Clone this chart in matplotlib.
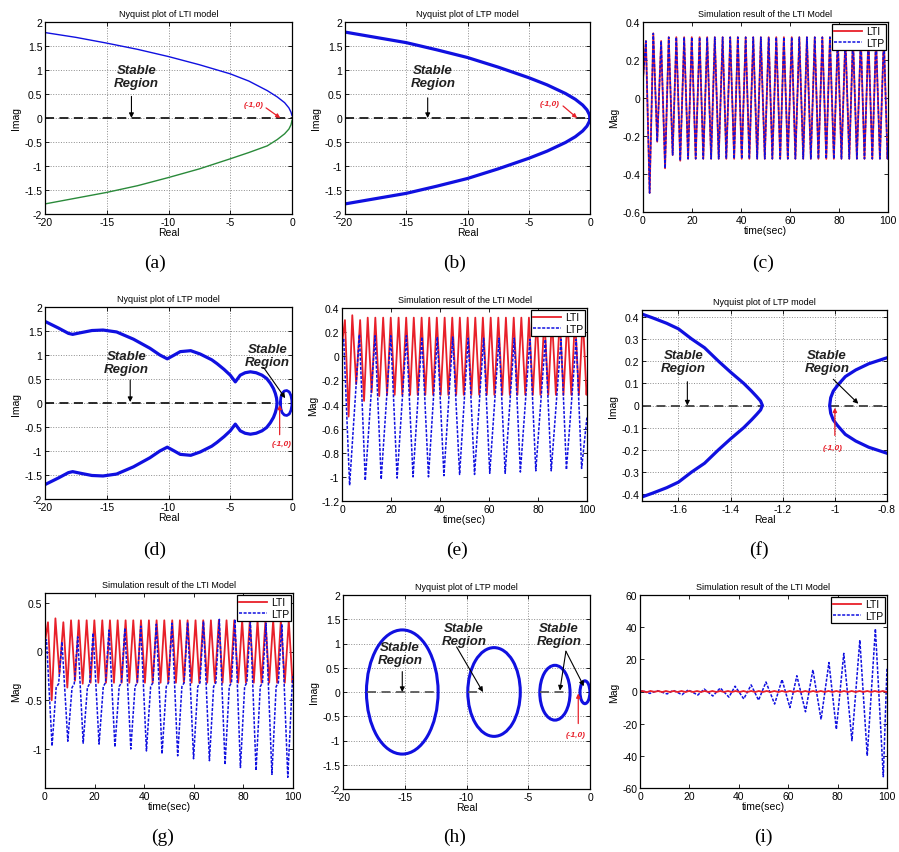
import numpy as np
import matplotlib
matplotlib.use("Agg")
import matplotlib.pyplot as plt
from matplotlib.patches import Ellipse
from matplotlib.ticker import FuncFormatter

plt.rcParams['font.family'] = ['Liberation Sans', 'DejaVu Sans']
plt.rcParams['axes.unicode_minus'] = False

BLUE = '#1010e0'
RED = '#e8202a'
GREEN = '#2a8a3a'

# ---------------- Nyquist data ----------------
# (a) LTI model: positive / negative frequency branches
a_real = [-20, -17.5, -15, -12.5, -10, -7.5, -5, -3.5, -2, -1.2, -0.6, -0.25, -0.08, 0]
a_imag_pos = [1.78, 1.68, 1.56, 1.43, 1.28, 1.11, 0.92, 0.77, 0.57, 0.44, 0.32, 0.21, 0.12, 0.05]
a_imag_neg = [-1.79, -1.67, -1.55, -1.41, -1.24, -1.06, -0.85, -0.72, -0.58, -0.45, -0.33, -0.23, -0.14, -0.05]

# (b) LTP model
b_real = [-20, -17.5, -15, -12.5, -10, -7.5, -5, -3.5, -2, -1.2, -0.6, -0.25, -0.05, 0.0]
b_imag = [1.79, 1.68, 1.57, 1.42, 1.26, 1.06, 0.84, 0.69, 0.51, 0.39, 0.27, 0.17, 0.07, 0.0]

# (d) LTP model, main branch (upper half) and small high-frequency loop
d_real = [-20, -18.9, -18.1, -17.76, -17.2, -16.2, -15.3, -14.2, -12.84, -11.5, -10.7,
          -10.1, -9.6, -9.05, -8.2, -7.43, -6.5, -6.07, -5.5, -5.0, -4.59, -4.19, -3.8,
          -3.37, -2.9, -2.43, -2.05, -1.75, -1.5, -1.35, -1.25, -1.21]
d_imag = [1.70, 1.56, 1.45, 1.43, 1.46, 1.51, 1.52, 1.48, 1.33, 1.14, 1.0,
          0.92, 0.99, 1.07, 1.09, 1.02, 0.9, 0.82, 0.7, 0.58, 0.44, 0.58, 0.63,
          0.65, 0.63, 0.58, 0.51, 0.41, 0.3, 0.2, 0.1, 0.0]
d_loop_real = [-0.95, -0.9, -0.8, -0.62, -0.42, -0.22, -0.08, -0.01, -0.01, -0.08, -0.22, -0.42, -0.62, -0.8, -0.9, -0.95]
d_loop_imag = [0.0, 0.12, 0.2, 0.25, 0.26, 0.23, 0.15, 0.05, -0.05, -0.15, -0.23, -0.26, -0.25, -0.2, -0.12, 0.0]

# (f) LTP model, zoom around the critical point
f_left_real = [-1.76, -1.7, -1.645, -1.6, -1.55, -1.5, -1.447, -1.4, -1.35, -1.32, -1.30, -1.285, -1.278]
f_left_imag = [0.42, 0.395, 0.37, 0.345, 0.30, 0.26, 0.2, 0.15, 0.1, 0.065, 0.04, 0.02, 0.0]
f_right_real = [-1.02, -1.016, -1.006, -0.99, -0.96, -0.92, -0.87, -0.8]
f_right_imag = [0.0, 0.035, 0.065, 0.09, 0.13, 0.16, 0.188, 0.215]

# (h) LTP model: closed loops
h_center_real = [-15.2, -7.77, -2.84, -0.41]
h_center_imag = [0.0, 0.0, -0.015, -0.005]
h_width = [5.8, 4.25, 2.45, 0.8]
h_height = [2.56, 1.83, 1.13, 0.47]
h_dash_start = [-18.06, -9.9, -4.05]
h_dash_end = [-12.3, -8.66, -1.86]

# ---------------- time responses (extrema of the oscillations) ----------------
lti_t = [0, 1.2, 2.7, 4.2, 5.8, 7.4, 9.0, 10.5, 12.1, 13.6, 15.2, 16.8, 18.4, 19.9, 21.5,
         23.1, 24.6, 26.2, 27.8, 29.3, 30.9, 32.5, 34.0, 35.6, 37.2, 38.7, 40.3, 41.9,
         43.4, 45.0, 46.6, 48.1, 49.7, 51.3, 52.8, 54.4, 56.0, 57.5, 59.1, 60.7, 62.2,
         63.8, 65.4, 66.9, 68.5, 70.1, 71.6, 73.2, 74.8, 76.3, 77.9, 79.5, 81.0, 82.6,
         84.2, 85.7, 87.3, 88.9, 90.4, 92.0, 93.6, 95.1, 96.7, 98.3, 99.8, 100]
lti_y = [0.10, 0.30, -0.50, 0.34, -0.23, 0.30, -0.37, 0.32, -0.30, 0.32, -0.33, 0.32, -0.32, 0.32, -0.32,
         0.32, -0.32, 0.32, -0.32, 0.32, -0.32, 0.32, -0.32, 0.32, -0.32, 0.32, -0.32, 0.32,
         -0.32, 0.32, -0.32, 0.32, -0.32, 0.32, -0.32, 0.32, -0.32, 0.32, -0.32, 0.32, -0.32,
         0.32, -0.32, 0.32, -0.32, 0.32, -0.32, 0.32, -0.32, 0.32, -0.32, 0.32, -0.32, 0.32,
         -0.32, 0.32, -0.32, 0.32, -0.32, 0.32, -0.32, 0.32, -0.32, 0.32, -0.32, -0.25]

ltp_e_t = [0, 0.7, 3.1, 7.1, 9.5, 13.5, 16.0, 19.9, 22.5, 26.3, 29.0, 32.6, 35.3, 38.9, 41.6, 45.2,
           48.0, 51.5, 54.1, 57.8, 60.3, 64.1, 66.6, 70.3, 72.8, 76.7, 79.1, 83.0, 85.4, 89.4,
           91.6, 95.6, 97.8, 100]
ltp_e_y = [0.10, 0.14, -1.07, 0.18, -1.03, 0.17, -1.02, 0.17, -1.01, 0.17, -1.00, 0.16, -1.00, 0.16,
           -0.99, 0.16, -0.98, 0.15, -0.98, 0.15, -0.97, 0.15, -0.97, 0.15, -0.96, 0.14, -0.95, 0.14,
           -0.95, 0.14, -0.94, 0.14, -0.93, -0.50]

ltp_g_t = [0, 0.6,
           2.85, 4.5, 5.5, 6.85, 9.2, 10.9, 11.8, 13.2, 15.4, 17.1, 18.0, 19.4,
           21.8, 23.5, 24.4, 25.8, 28.2, 29.9, 30.8, 32.2, 34.6, 36.3, 37.2, 38.6,
           40.9, 42.6, 43.5, 44.9, 47.2, 48.9, 49.8, 51.2, 53.5, 55.2, 56.1, 57.5,
           59.9, 61.6, 62.5, 63.9, 66.3, 68.0, 68.9, 70.3, 72.6, 74.3, 75.2, 76.6,
           78.8, 80.5, 81.4, 82.8, 85.1, 86.8, 87.7, 89.1, 91.5, 93.2, 94.1, 95.5,
           97.9, 99.6, 100]
ltp_g_y = [0.10, 0.12,
           -0.97, -0.37, -0.33, 0.10, -0.92, -0.37, -0.33, 0.15, -0.94, -0.37, -0.33, 0.19,
           -0.95, -0.36, -0.32, 0.22, -0.98, -0.36, -0.32, 0.24, -1.00, -0.36, -0.32, 0.26,
           -1.02, -0.36, -0.32, 0.28, -1.05, -0.36, -0.32, 0.29, -1.07, -0.36, -0.32, 0.30,
           -1.10, -0.36, -0.32, 0.31, -1.12, -0.36, -0.32, 0.33, -1.16, -0.36, -0.32, 0.33,
           -1.19, -0.36, -0.32, 0.31, -1.22, -0.36, -0.32, 0.29, -1.26, -0.36, -0.32, 0.28,
           -1.29, -0.38, -0.25]

ltp_i_t = [0, 1.0, 4.0, 7.0, 11.0, 13.5, 17.0, 19.5, 23.4, 26.0, 29.5, 32.5, 36.0, 38.5, 42.0, 45.0,
           48.0, 51.0, 54.5, 57.5, 60.7, 63.5, 67.0, 70.0, 73.3, 76.5, 79.5, 82.5, 85.8, 89.0,
           92.0, 95.3, 98.5, 100]
ltp_i_y = [-0.5, 0.5, -1.2, 0.5, -1.5, 0.7, -2.0, 1.0, -2.2, 1.5, -2.8, 2.2, -3.5, 3.3, -4.6, 4.1,
           -5.4, 5.9, -7.8, 7.4, -10.0, 9.8, -12.6, 13.5, -17.4, 18.0, -23.5, 23.7, -30.6, 32.0,
           -40.0, 39.0, -53.0, 15.0]

fig = plt.figure(figsize=(8.99, 8.53), dpi=100)


def _tick(v, pos):
    v = round(v, 6)
    if v == 0:
        v = 0.0
    return '%g' % v


fmt = FuncFormatter(_tick)


def make_axes(left, top, right, bottom):
    return fig.add_axes([left / 899, 1 - bottom / 853, (right - left) / 899, (bottom - top) / 853])


def style(ax, title, xlabel, ylabel, grid):
    ax.set_title(title, fontsize=6.5, pad=4)
    ax.set_xlabel(xlabel, fontsize=7.5, labelpad=0.5)
    ax.set_ylabel(ylabel, fontsize=7.5, labelpad=2)
    ax.tick_params(direction='in', length=3, width=0.6, labelsize=7.5, top=True, right=True, pad=2)
    ax.xaxis.set_major_formatter(fmt)
    ax.yaxis.set_major_formatter(fmt)
    for s in ax.spines.values():
        s.set_linewidth(0.9)
    if grid:
        ax.grid(True, ls=':', color='0.55', lw=0.7)
        ax.set_axisbelow(True)


ARROW_K = dict(arrowstyle='-|>', color='k', lw=0.8, mutation_scale=7, shrinkA=0, shrinkB=0)


def stable_text(ax, x, y, tail, tip):
    ax.text(x, y, 'Stable\nRegion', ha='center', va='center', fontsize=9.5,
            fontweight='bold', fontstyle='italic', linespacing=1.1, color='#202020')
    if tip is not None:
        ax.annotate('', xy=tip, xytext=tail, arrowprops=ARROW_K)


def point_label(ax, x, y, tail, tip):
    ax.text(x, y, '(-1,0)', ha='center', va='center', fontsize=6, color=RED,
            fontweight='bold', fontstyle='italic')
    ax.annotate('', xy=tip, xytext=tail,
                arrowprops=dict(arrowstyle='-|>', color=RED, lw=0.9, mutation_scale=6,
                                shrinkA=0, shrinkB=0))


def panel_label(x, y, s):
    fig.text(x / 899, 1 - y / 853, s, ha='center', va='center', fontsize=14,
             family=['Liberation Serif', 'DejaVu Serif'])


def legend(ax, handles=None, labels=None):
    kw = dict(loc='upper right', fontsize=7.5, frameon=True, fancybox=False, edgecolor='k',
              borderpad=0.25, handlelength=2.6, labelspacing=0.15, borderaxespad=0.15,
              handletextpad=0.4)
    lg = ax.legend(handles, labels, **kw) if handles is not None else ax.legend(**kw)
    lg.get_frame().set_linewidth(0.9)
    lg.get_frame().set_alpha(1)


dash_k = (0, (5, 3))
dash_b = (0, (2, 1))

# (a)
ax = make_axes(45, 23, 292, 215)
ax.plot([-20, 0], [0, 0], color='0.1', lw=1.3, ls=dash_k)
ax.plot(a_real, a_imag_pos, color=BLUE, lw=1.0)
ax.plot(a_real, a_imag_neg, color=GREEN, lw=1.0)
ax.set_xlim(-20, 0); ax.set_ylim(-2, 2)
ax.set_xticks([-20, -15, -10, -5, 0]); ax.set_yticks(np.arange(-2, 2.01, 0.5))
style(ax, 'Nyquist plot of LTI model', 'Real', 'Imag', True)
stable_text(ax, -12.6, 0.87, (-13.0, 0.45), (-13.0, 0.0))
point_label(ax, -3.1, 0.29, (-2.1, 0.21), (-0.95, 0.0))

# (b)
ax = make_axes(345, 23, 590, 215)
ax.plot([-20, 0], [0, 0], color='0.1', lw=1.3, ls=dash_k)
ax.plot(b_real, b_imag, color=BLUE, lw=2.3)
ax.plot(b_real, -np.array(b_imag), color=BLUE, lw=2.3)
ax.set_xlim(-20, 0); ax.set_ylim(-2, 2)
ax.set_xticks([-20, -15, -10, -5, 0]); ax.set_yticks(np.arange(-2, 2.01, 0.5))
style(ax, 'Nyquist plot of LTP model', 'Real', 'Imag', True)
stable_text(ax, -12.8, 0.87, (-13.25, 0.42), (-13.25, 0.0))
point_label(ax, -3.3, 0.3, (-2.2, 0.25), (-1.05, 0.0))

# (c)
ax = make_axes(643, 23, 888, 213)
ax.plot(lti_t, lti_y, color=RED, lw=1.3, label='LTI')
ax.plot(lti_t, lti_y, color=BLUE, lw=1.1, ls=dash_b, label='LTP')
ax.set_xlim(0, 100); ax.set_ylim(-0.6, 0.4)
ax.set_xticks(np.arange(0, 101, 20)); ax.set_yticks(np.arange(-0.6, 0.41, 0.2))
style(ax, 'Simulation result of the LTI Model', 'time(sec)', 'Mag', False)
legend(ax)

# (d)
ax = make_axes(45, 308, 292, 500)
ax.plot([-20, -1.2], [0, 0], color='0.1', lw=1.3, ls=dash_k)
ax.plot(d_real + d_real[::-1], d_imag + [-v for v in d_imag[::-1]], color=BLUE, lw=2.3)
ax.plot(d_loop_real, d_loop_imag, color=BLUE, lw=2.0)
ax.set_xlim(-20, 0); ax.set_ylim(-2, 2)
ax.set_xticks([-20, -15, -10, -5, 0]); ax.set_yticks(np.arange(-2, 2.01, 0.5))
style(ax, 'Nyquist plot of LTP model', 'Real', 'Imag', True)
stable_text(ax, -13.4, 0.85, (-13.1, 0.48), (-13.1, 0.02))
stable_text(ax, -2.0, 0.99, (-2.3, 0.74), (-0.55, 0.1))
point_label(ax, -0.85, -0.84, (-1.0, -0.66), (-1.0, -0.04))

# (e)
ax = make_axes(342, 309, 587, 502)
ax.plot(lti_t, lti_y, color=RED, lw=1.3, label='LTI')
ax.plot(ltp_e_t, ltp_e_y, color=BLUE, lw=1.1, ls=dash_b, label='LTP')
ax.set_xlim(0, 100); ax.set_ylim(-1.2, 0.4)
ax.set_xticks(np.arange(0, 101, 20)); ax.set_yticks(np.arange(-1.2, 0.41, 0.2))
style(ax, 'Simulation result of the LTI Model', 'time(sec)', 'Mag', False)
legend(ax)

# (f)
ax = make_axes(642, 311, 887, 502)
ax.plot([-1.74, -1.28], [0, 0], color='0.25', lw=1.3, ls=dash_k)
ax.plot([-1.02, -0.8], [0, 0], color='0.25', lw=1.3, ls=dash_k)
ax.plot(f_left_real + f_left_real[::-1], f_left_imag + [-v for v in f_left_imag[::-1]], color=BLUE, lw=2.3)
ax.plot(f_right_real[::-1] + f_right_real, f_right_imag[::-1] + [-v for v in f_right_imag], color=BLUE, lw=2.3)
ax.set_xlim(-1.74, -0.8); ax.set_ylim(-0.43, 0.43)
ax.set_xticks([-1.6, -1.4, -1.2, -1.0, -0.8]); ax.set_yticks(np.arange(-0.4, 0.41, 0.1))
style(ax, 'Nyquist plot of LTP model', 'Real', 'Imag', True)
stable_text(ax, -1.58, 0.2, (-1.566, 0.107), (-1.566, 0.0))
stable_text(ax, -1.03, 0.2, (-1.006, 0.118), (-0.91, 0.008))
point_label(ax, -1.01, -0.19, (-1.0, -0.135), (-1.0, -0.01))

# (g)
ax = make_axes(45, 594, 293, 789)
ax.plot(lti_t, lti_y, color=RED, lw=1.3, label='LTI')
ax.plot(ltp_g_t, ltp_g_y, color=BLUE, lw=1.1, ls=dash_b, label='LTP')
ax.set_xlim(0, 100); ax.set_ylim(-1.4, 0.6)
ax.set_xticks(np.arange(0, 101, 20)); ax.set_yticks([-1, -0.5, 0, 0.5])
style(ax, 'Simulation result of the LTI Model', 'time(sec)', 'Mag', False)
legend(ax)

# (h)
ax = make_axes(343, 596, 590, 790)
for s, e in zip(h_dash_start, h_dash_end):
    ax.plot([s, e], [0, 0], color='0.35', lw=1.3, ls=dash_k)
for cx, cy, w, h in zip(h_center_real, h_center_imag, h_width, h_height):
    ax.add_patch(Ellipse((cx, cy), w, h, fill=False, ec=BLUE, lw=2.2))
ax.set_xlim(-20, 0); ax.set_ylim(-2, 2)
ax.set_xticks([-20, -15, -10, -5, 0]); ax.set_yticks(np.arange(-2, 2.01, 0.5))
style(ax, 'Nyquist plot of LTP model', 'Real', 'Imag', True)
stable_text(ax, -15.4, 0.8, (-15.2, 0.42), (-15.2, 0.0))
stable_text(ax, -10.2, 1.18, (-10.8, 0.93), (-8.67, 0.0))
stable_text(ax, -2.5, 1.18, (-1.95, 0.84), (-2.44, 0.03))
ax.annotate('', xy=(-0.5, 0.12), xytext=(-1.95, 0.84), arrowprops=ARROW_K)
point_label(ax, -1.17, -0.88, (-0.95, -0.65), (-0.95, -0.03))

# (i)
ax = make_axes(640, 596, 887, 789)
ln_ltp, = ax.plot(ltp_i_t, ltp_i_y, color=BLUE, lw=1.1, ls=dash_b, label='LTP')
ln_lti, = ax.plot(lti_t, lti_y, color=RED, lw=1.3, label='LTI')
ax.set_xlim(0, 100); ax.set_ylim(-60, 60)
ax.set_xticks(np.arange(0, 101, 20)); ax.set_yticks(np.arange(-60, 61, 20))
style(ax, 'Simulation result of the LTI Model', 'time(sec)', 'Mag', False)
legend(ax, [ln_lti, ln_ltp], ['LTI', 'LTP'])

for x, y, s in [(155, 263, '(a)'), (455, 263, '(b)'), (763, 263, '(c)'),
                (155, 550, '(d)'), (457, 550, '(e)'), (759, 550, '(f)'),
                (163, 837, '(g)'), (455, 837, '(h)'), (763, 837, '(i)')]:
    panel_label(x, y, s)

fig.savefig('out.png', dpi=100, facecolor='white')
